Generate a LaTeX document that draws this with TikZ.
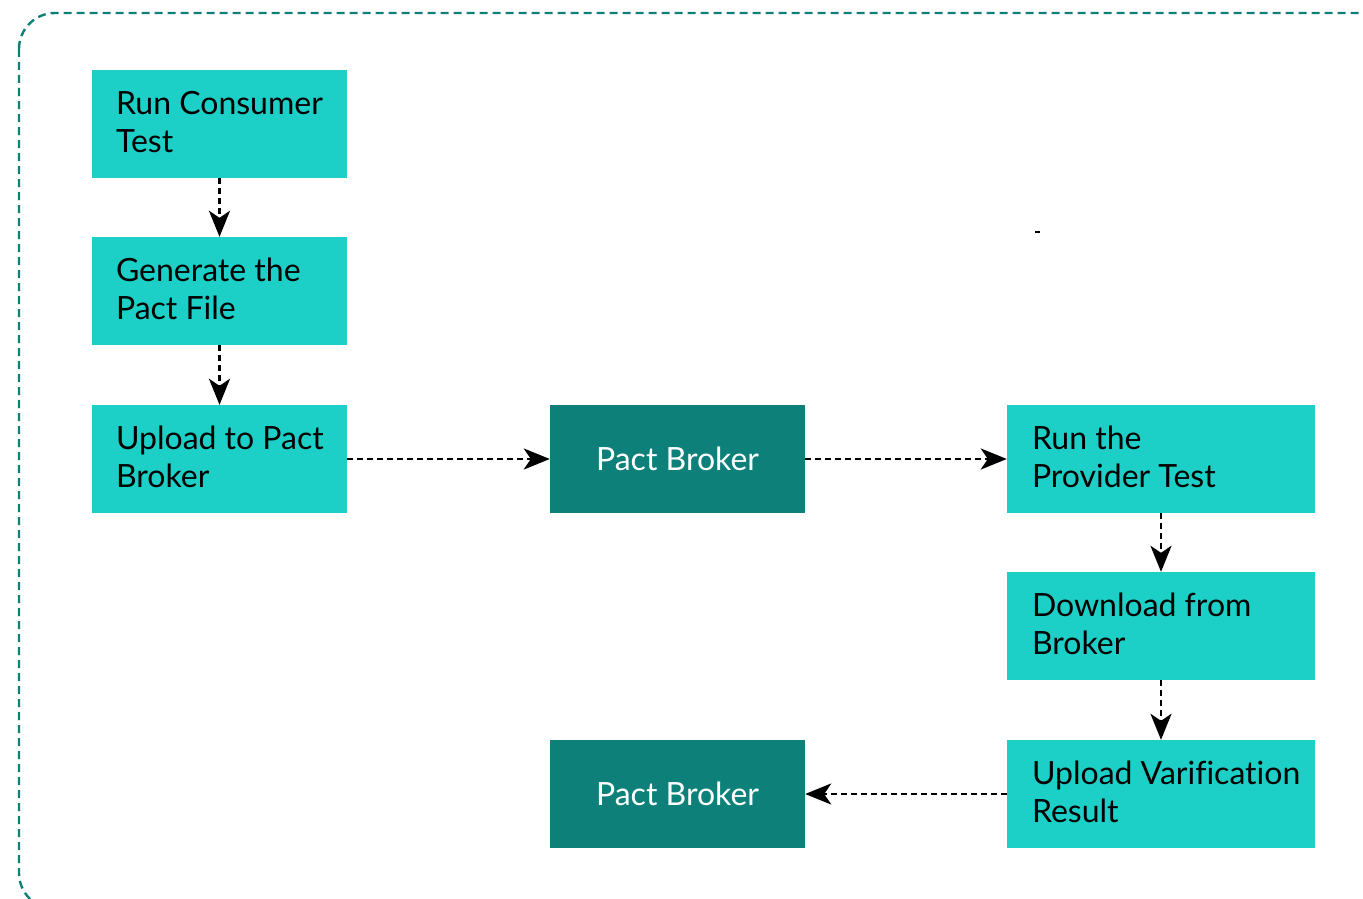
\documentclass[tikz,border=0pt]{standalone}
\usepackage{fontspec}
\setmainfont[Ligatures={NoCommon,NoRare}]{Lato}
\usetikzlibrary{arrows.meta}

\definecolor{steplight}{RGB}{28,207,199}
\definecolor{stepdark}{RGB}{13,128,121}
\definecolor{frameteal}{RGB}{16,128,118}

\tikzset{
  stepbox/.style={shape=rectangle, fill=steplight, minimum width=255pt, minimum height=108pt, inner sep=0pt},
  widebox/.style={stepbox, minimum width=308pt},
  brokerbox/.style={stepbox, fill=stepdark, text=white},
  steptext/.style={anchor=west, xshift=24pt, yshift=2pt, align=left, inner sep=0pt},
  flow/.style={draw=black, line width=2.6pt, dash pattern=on 6pt off 4pt, -{Stealth[length=26pt,width=21pt,inset=7pt]}}
}

\begin{document}
\begin{tikzpicture}[x=1pt, y=-1pt, font=\fontsize{32}{38}\selectfont]
	\useasboundingbox (0,0) rectangle (1363,899);
	\begin{scope}
		\clip (0,0) rectangle (1363,899);
		\draw[frameteal, line width=2.4pt, dash pattern=on 8pt off 5pt, rounded corners=36pt] (19,13) rectangle (1394,909);
	\end{scope}

	\node[stepbox, label={[steptext]west:Run Consumer\\Test}] (consumer) at (219.5,124) {};
	\node[stepbox, label={[steptext]west:Generate the\\Pact File}] (generate) at (219.5,291) {};
	\node[stepbox, label={[steptext]west:Upload to Pact\\Broker}] (upload) at (219.5,459) {};
	\node[brokerbox] (broker1) at (677.5,459) {Pact Broker};
	\node[widebox, label={[steptext, xshift=1pt]west:Run the\\Provider Test}] (provider) at (1161,459) {};
	\node[widebox, label={[steptext, xshift=1pt]west:Download from\\Broker}] (download) at (1161,626) {};
	\node[widebox, label={[steptext, xshift=1pt]west:Upload Varification\\Result}] (verify) at (1161,794) {};
	\node[brokerbox] (broker2) at (677.5,794) {Pact Broker};

	\draw[line width=2pt] (1035,232) -- (1040,232);

	\path[flow] (consumer) edge (generate);
	\path[flow] (generate) edge (upload);
	\path[flow] (upload) edge (broker1);
	\path[flow] (broker1) edge (provider);
	\path[flow] (provider) edge (download);
	\path[flow] (download) edge (verify);
	\path[flow] (verify) edge (broker2);
\end{tikzpicture}
\end{document}
